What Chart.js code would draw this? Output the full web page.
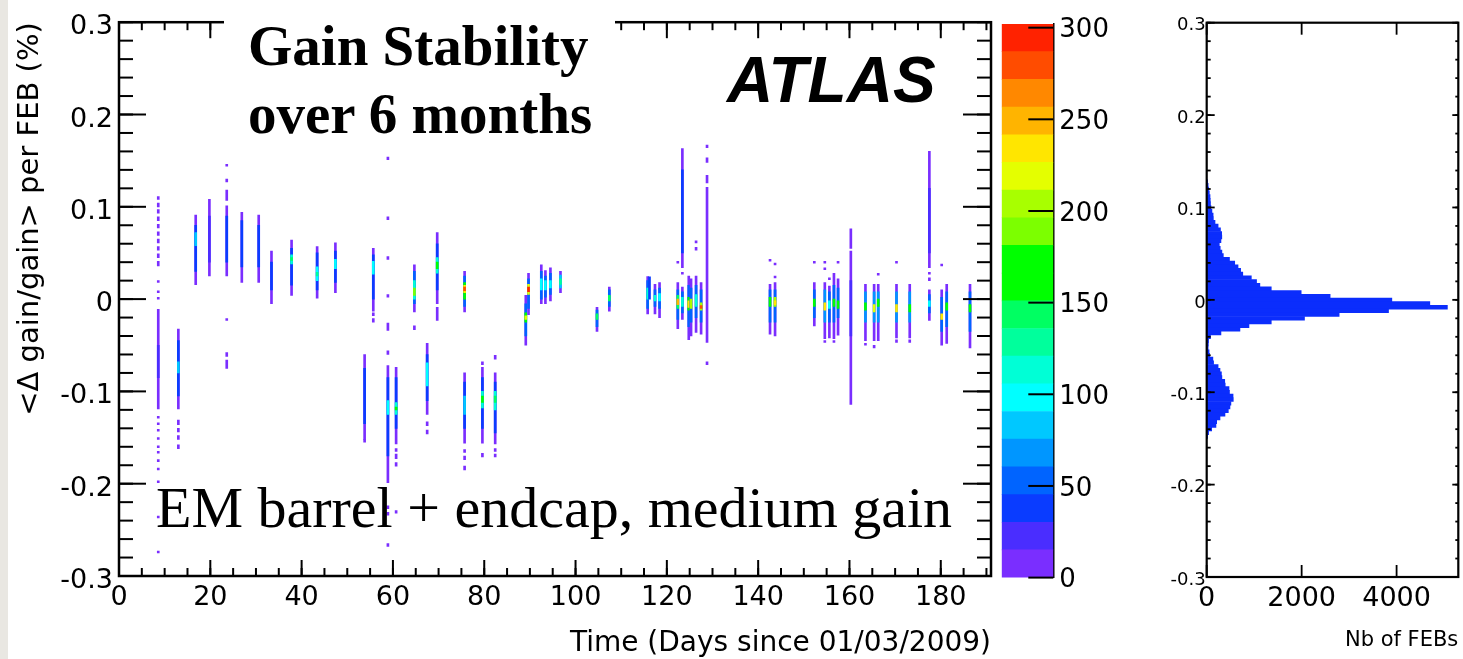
<!DOCTYPE html>
<html>
<head>
<meta charset="utf-8">
<script src="https://cdn.jsdelivr.net/npm/chart.js@4.4.1/dist/chart.umd.min.js"></script>
<style>
  body { margin: 0; width: 1463px; height: 659px; position: relative; overflow: hidden; background: #fff; }
  canvas { position: absolute; top: 0; }
  .strip { position: absolute; left: 0; top: 0; width: 8px; height: 659px; background: #e9e7e2; }
  .txt { position: absolute; white-space: nowrap; color: #000; line-height: 1; }
  .box { position: absolute; left: 224px; top: 0; width: 391px; height: 142px; background: #fff; }
  .serifB { font-family: 'Liberation Serif', serif; font-weight: bold; font-size: 57px; }
  .serif { font-family: 'Liberation Serif', serif; font-size: 58px; }
  .atlas { font-family: 'Liberation Sans', sans-serif; font-weight: bold; font-style: italic; font-size: 64px; }
</style>
</head>
<body>
<div class="strip"></div>
<canvas id="gainMap" width="1000" height="659" style="left:0"></canvas>
<canvas id="zScale" width="150" height="659" style="left:990px"></canvas>
<canvas id="febHist" width="323" height="659" style="left:1140px"></canvas>
<div class="box"></div>
<div class="txt serifB" style="left:248px;top:17px">Gain Stability</div>
<div class="txt serifB" style="left:248px;top:85px">over 6 months</div>
<div class="txt atlas" style="left:727px;top:48px">ATLAS</div>
<div class="txt serif" style="left:156px;top:479px">EM barrel + endcap, medium gain</div>
<script>
// ROOT-like palette, 20 contours from 0 to zMax
const zMax = 302;
const paletteColors = ['#7a2eff', '#4a2dff', '#0a3cff', '#0064ff', '#0096ff', '#00c8ff', '#00ffff', '#00ffd6', '#00ff9c', '#00ff62',
  '#00ff00', '#00ff00', '#7cff00', '#a8ff00', '#e4ff00', '#ffe600', '#ffb400', '#ff8800', '#ff4c00', '#ff2200'];
const zTicks = [0, 50, 100, 150, 200, 250, 300];
const histTicks = [0, 2000, 4000];

// [day, low, high, FEBs per cell]
const cellsEarly = [
  [8.6,0.108,0.111,6],[8.6,0.100,0.104,6],[8.6,0.093,0.097,6],[8.6,0.085,0.089,6],[8.6,0.077,0.081,6],[8.6,0.069,0.073,6],
  [8.6,0.061,0.065,6],[8.6,0.053,0.057,6],[8.6,0.045,0.049,6],[8.6,0.036,0.041,6],[8.6,0.018,0.020,6],[8.6,0.007,0.009,6],[8.6,0.000,0.002,6],
  [8.6,-0.119,-0.011,8],[8.6,-0.085,-0.050,20],
  [8.6,-0.129,-0.127,6],[8.6,-0.136,-0.134,6],[8.6,-0.143,-0.141,6],[8.6,-0.152,-0.150,6],[8.6,-0.161,-0.159,6],[8.6,-0.167,-0.165,6],
  [8.6,-0.176,-0.174,6],[8.6,-0.185,-0.183,6],[8.6,-0.199,-0.197,6],[8.6,-0.237,-0.235,6],[8.6,-0.275,-0.273,6],
  [13.0,-0.119,-0.0325,10],[13.0,-0.105,-0.045,38],[13.0,-0.080,-0.068,90],
  [13.0,-0.136,-0.131,6],[13.0,-0.144,-0.140,6],[13.0,-0.152,-0.148,6],[13.0,-0.162,-0.158,6],
  [16.8,0.0155,0.091,10],[16.8,0.030,0.080,38],[16.8,0.058,0.072,85],
  [19.8,0.025,0.108,10],[19.8,0.040,0.090,25],
  [23.6,0.144,0.146,6],[23.6,0.127,0.130,6],[23.6,0.107,0.118,8],[23.6,0.025,0.101,10],[23.6,0.040,0.090,40],
  [23.6,-0.023,-0.021,6],[23.6,-0.062,-0.058,6],[23.6,-0.075,-0.066,6],
  [26.9,0.018,0.094,10],[26.9,0.035,0.085,40],
  [30.6,0.018,0.091,10],[30.6,0.035,0.080,40],
  [33.4,-0.005,0.052,10],[33.4,0.010,0.040,35],
  [37.8,0.004,0.064,10],[37.8,0.015,0.055,40],[37.8,0.038,0.048,110],[37.8,0.042,0.045,140],
  [43.4,0.001,0.057,10],[43.4,0.010,0.050,40],[43.4,0.020,0.035,100],[43.4,0.025,0.029,130],
  [47.4,0.007,0.061,10],[47.4,0.018,0.052,40],[47.4,0.033,0.043,100],
  [53.8,-0.152,-0.060,10],[53.8,-0.135,-0.075,40],[53.8,-0.155,-0.152,6],
  [55.7,-0.013,0.055,10],[55.7,0.000,0.048,40],[55.7,0.027,0.041,100],[55.7,-0.018,-0.015,6],[55.7,-0.025,-0.021,6],
  [58.9,0.151,0.154,6],[58.9,0.086,0.089,6],[58.9,0.043,0.046,6],[58.9,0.002,0.005,6],[58.9,-0.034,-0.026,6],[58.9,-0.060,-0.056,6],
  [58.9,-0.199,-0.072,10],[58.9,-0.170,-0.085,40],[58.9,-0.125,-0.110,100],
  [58.9,-0.227,-0.224,6],[58.9,-0.234,-0.231,6],[58.9,-0.268,-0.265,6]
];
const cellsMid = [
  [60.7,-0.157,-0.074,10],[60.7,-0.140,-0.085,40],[60.7,-0.125,-0.112,110],[60.7,-0.120,-0.117,160],
  [60.7,-0.165,-0.162,6],[60.7,-0.173,-0.168,6],[60.7,-0.181,-0.177,6],[60.7,-0.232,-0.229,6],
  [64.7,-0.014,0.037,10],[64.7,-0.005,0.030,50],[64.7,0.000,0.020,120],[64.7,0.004,0.012,190],[64.7,-0.033,-0.029,6],
  [67.5,-0.125,-0.048,10],[67.5,-0.110,-0.060,40],[67.5,-0.094,-0.069,100],[67.5,-0.137,-0.133,6],[67.5,-0.146,-0.142,6],
  [69.7,-0.005,0.072,10],[69.7,0.010,0.060,40],[69.7,0.028,0.045,110],[69.7,0.033,0.040,170],[69.7,-0.023,-0.009,10],
  [75.7,-0.014,0.030,10],[75.7,-0.008,0.025,60],[75.7,0.000,0.018,160],[75.7,0.007,0.015,240],[75.7,0.009,0.013,285],
  [75.7,-0.156,-0.080,10],[75.7,-0.140,-0.090,40],[75.7,-0.125,-0.105,90],
  [75.7,-0.166,-0.163,6],[75.7,-0.174,-0.170,6],[75.7,-0.185,-0.181,6],
  [79.6,-0.071,-0.068,6],[79.6,-0.156,-0.074,10],[79.6,-0.140,-0.085,45],[79.6,-0.118,-0.100,120],[79.6,-0.112,-0.105,165],[79.6,-0.171,-0.167,6],
  [82.4,-0.065,-0.061,6],[82.4,-0.157,-0.080,10],[82.4,-0.145,-0.090,45],[82.4,-0.120,-0.100,110],[82.4,-0.112,-0.105,150],
  [82.4,-0.165,-0.162,6],[82.4,-0.171,-0.168,6],
  [89.1,-0.050,0.004,12],[89.1,-0.040,-0.005,60],[89.1,-0.025,-0.015,170],[89.1,-0.022,-0.018,220],
  [89.7,-0.017,0.028,12],[89.7,-0.010,0.022,60],[89.7,0.005,0.016,220],[89.7,0.008,0.013,290],
  [92.5,-0.005,0.037,10],[92.5,0.000,0.030,50],[92.5,0.010,0.022,100],
  [93.4,-0.005,0.031,10],[93.4,0.002,0.025,60],[93.4,0.010,0.020,105],
  [94.5,-0.002,0.034,10],[94.5,0.005,0.028,50],[94.5,0.012,0.020,100],
  [96.7,0.007,0.030,10],[96.7,0.012,0.026,80],[96.7,0.016,0.022,130],
  [104.7,-0.035,-0.009,10],[104.7,-0.030,-0.012,60],[104.7,-0.022,-0.016,150],
  [107.4,-0.013,0.013,10],[107.4,-0.008,0.010,60],[107.4,-0.002,0.004,150],
  [115.8,-0.016,0.0245,10],[115.8,-0.010,0.020,50],[115.8,0.000,0.012,110],[116.2,0.000,0.024,40],
  [117.4,-0.016,0.016,10],[117.4,-0.008,0.010,60],[117.4,-0.002,0.004,110],
  [118.4,-0.020,0.018,10],[118.4,-0.010,0.012,60],[118.4,-0.002,0.006,100],
  [122.4,0.039,0.041,6],[122.4,-0.032,0.018,10],[122.4,-0.022,0.010,60],[122.4,-0.010,0.004,150],[122.4,-0.006,0.000,250],
  [123.4,0.034,0.163,10],[123.4,0.050,0.140,40],[123.4,0.027,0.029,6],[123.4,-0.022,0.013,10],[123.4,-0.015,0.008,60],[123.4,-0.008,0.002,110]
];
const cellsLate = [
  [124.8,-0.044,0.025,12],[124.8,-0.030,0.015,50],[124.8,-0.012,0.002,180],[124.8,-0.009,-0.002,240],
  [125.3,-0.040,0.022,12],[125.3,-0.025,0.012,60],[125.3,-0.010,0.000,200],
  [126.4,0.061,0.063,6],[126.4,0.053,0.056,6],[126.4,-0.036,0.025,10],[126.4,-0.020,0.015,50],[126.4,-0.008,0.005,110],
  [127.5,-0.038,0.018,10],[127.5,-0.025,0.010,60],[127.5,-0.012,-0.004,200],[127.5,-0.010,-0.007,285],
  [128.8,0.164,0.167,6],[128.8,0.148,0.153,6],[128.8,0.126,0.134,6],[128.8,-0.047,0.121,8],[128.8,-0.071,-0.068,6],
  [142.6,0.041,0.043,6],[142.6,-0.038,0.016,10],[142.6,-0.025,0.010,60],[142.6,-0.008,0.002,180],
  [143.7,0.037,0.039,6],[143.7,0.023,0.025,6],[143.7,-0.040,0.018,10],[143.7,-0.025,0.010,60],[143.7,-0.008,0.002,200],[143.7,-0.006,-0.002,235],
  [152.3,0.039,0.041,6],[152.3,-0.029,0.018,10],[152.3,-0.020,0.010,60],[152.3,-0.008,0.000,170],
  [154.6,0.039,0.041,6],[154.6,0.032,0.034,6],[154.6,-0.043,0.018,10],[154.6,-0.025,0.010,70],[154.6,-0.012,-0.004,230],[154.6,-0.047,-0.045,6],
  [155.6,0.021,0.023,6],[155.6,-0.042,0.014,10],[155.6,-0.025,0.008,50],[155.6,-0.010,-0.002,100],
  [156.6,-0.043,0.028,10],[156.6,-0.025,0.015,60],[156.6,-0.008,0.000,170],[156.6,-0.047,-0.045,6],
  [157.5,0.039,0.041,6],[157.5,-0.039,0.022,10],[157.5,-0.020,0.012,60],[157.5,-0.010,-0.002,170],
  [160.3,0.055,0.076,8],[160.3,-0.114,0.052,10],[160.3,-0.040,0.020,30],
  [163.5,-0.045,0.016,10],[163.5,-0.025,0.008,70],[163.5,-0.012,-0.004,170],[163.5,-0.050,-0.048,6],
  [165.4,-0.045,0.016,10],[165.4,-0.025,0.008,70],[165.4,-0.014,-0.006,220],[165.4,-0.053,-0.050,6],
  [166.3,0.026,0.028,6],[166.3,-0.045,0.016,10],[166.3,-0.025,0.008,70],[166.3,-0.008,0.000,170],
  [170.3,0.039,0.041,6],[170.3,-0.042,0.016,10],[170.3,-0.025,0.008,70],[170.3,-0.014,-0.006,230],[170.3,-0.047,-0.044,6],
  [173.2,-0.042,0.016,10],[173.2,-0.025,0.008,70],[173.2,-0.014,-0.006,170],[173.2,-0.047,-0.044,6],
  [177.5,0.034,0.160,10],[177.5,0.050,0.120,30],[177.5,0.027,0.029,6],[177.5,0.020,0.023,6],
  [177.5,-0.023,0.010,10],[177.5,-0.015,0.005,50],[177.5,-0.008,-0.002,100],
  [180.2,0.036,0.038,6],[180.2,-0.050,0.010,10],[180.2,-0.035,0.002,60],[180.2,-0.022,-0.016,230],
  [181.3,-0.048,0.016,10],[181.3,-0.030,0.008,60],[181.3,-0.012,-0.004,165],
  [186.4,-0.053,0.016,10],[186.4,-0.035,0.008,50],[186.4,-0.014,-0.006,170]
];

// projection: <dgain/gain> bin centres and number of FEBs
const histCenters = [0.128,0.124,0.120,0.116,0.112,0.108,0.104,0.100,0.096,0.092,0.088,0.084,0.080,0.076,0.072,0.068,0.064,0.060,
  0.056,0.052,0.048,0.044,0.040,0.036,0.032,0.028,0.024,0.020,0.016,0.012,0.008,0.004,0.000,-0.004,-0.008,-0.012,-0.016,-0.020,
  -0.024,-0.028,-0.032,-0.036,-0.040,-0.044,-0.048,-0.052,-0.056,-0.060,-0.064,-0.068,-0.072,-0.076,-0.080,-0.084,-0.088,-0.092,
  -0.096,-0.100,-0.104,-0.108,-0.112,-0.116,-0.120,-0.124,-0.128,-0.132,-0.136,-0.140,-0.144,-0.148];
const histCounts = [20,30,40,55,70,75,80,90,110,135,140,175,240,290,315,318,300,265,
  285,320,350,480,590,660,715,760,940,1050,1120,1360,1990,2600,3900,4700,5070,3830,2790,2060,
  1360,890,700,300,80,40,35,30,50,60,130,145,240,280,310,320,380,390,
  470,480,555,560,510,490,455,385,280,210,195,105,40,20];

const cells = cellsEarly.concat(cellsMid, cellsLate);
function colorFor(n) {
  const i = Math.min(paletteColors.length - 1, Math.floor(n / (zMax / paletteColors.length)));
  return paletteColors[i];
}
function fmtTenth(v) {
  const r = Math.round(v * 10) / 10;
  return r === 0 ? '0' : String(r);
}

Chart.defaults.font.family = "'DejaVu Sans', sans-serif";
Chart.defaults.color = '#000';

// inward ROOT style ticks and frame
const rootAxes = {
  id: 'rootAxes',
  afterDatasetsDraw(chart, args, opts) {
    const { ctx, chartArea: a, scales } = chart;
    ctx.save();
    ctx.strokeStyle = '#000';
    ctx.lineCap = 'butt';
    if (opts.frame) {
      ctx.lineWidth = opts.frameWidth;
      ctx.strokeRect(a.left, a.top, a.right - a.left, a.bottom - a.top);
    }
    ctx.lineWidth = opts.tickWidth;
    (opts.marks || []).forEach(m => {
      const s = scales[m.axis];
      const start = Math.ceil(s.min / m.step - 1e-6) * m.step;
      for (let v = start; v <= s.max + 1e-9; v += m.step) {
        const p = s.getPixelForValue(v);
        ctx.beginPath();
        if (m.side === 'bottom') { ctx.moveTo(p, a.bottom); ctx.lineTo(p, a.bottom - m.len); }
        if (m.side === 'top') { ctx.moveTo(p, a.top); ctx.lineTo(p, a.top + m.len); }
        if (m.side === 'left') { ctx.moveTo(a.left, p); ctx.lineTo(a.left + m.len, p); }
        if (m.side === 'right') { ctx.moveTo(a.right, p); ctx.lineTo(a.right - m.len, p); }
        ctx.stroke();
      }
    });
    ctx.restore();
  }
};

const noGrid = { display: false, drawTicks: false };

new Chart(document.getElementById('gainMap'), {
  type: 'bar',
  data: {
    datasets: [{
      data: cells.map(c => ({ x: c[0], y: [c[1], c[2]] })),
      backgroundColor: cells.map(c => colorFor(c[3])),
      barThickness: 2,
      borderWidth: 0
    }]
  },
  options: {
    animation: false,
    responsive: false,
    events: [],
    layout: { padding: { top: 22, right: 9, left: 0, bottom: 0 } },
    plugins: {
      legend: { display: false },
      tooltip: { enabled: false },
      rootAxes: {
        frame: true, frameWidth: 2.5, tickWidth: 2,
        marks: [
          { axis: 'x', side: 'bottom', step: 5, len: 8 }, { axis: 'x', side: 'bottom', step: 20, len: 16 },
          { axis: 'x', side: 'top', step: 5, len: 8 }, { axis: 'x', side: 'top', step: 20, len: 16 },
          { axis: 'y', side: 'left', step: 0.02, len: 14 }, { axis: 'y', side: 'left', step: 0.1, len: 27 },
          { axis: 'y', side: 'right', step: 0.02, len: 14 }, { axis: 'y', side: 'right', step: 0.1, len: 28 }
        ]
      }
    },
    scales: {
      x: {
        type: 'linear', min: 0, max: 191, offset: false,
        afterFit: s => { s.height = 83; },
        grid: noGrid, border: { display: false },
        ticks: { stepSize: 20, includeBounds: false, autoSkip: false, maxRotation: 0, padding: 6, font: { size: 27 } },
        title: { display: true, text: 'Time (Days since 01/03/2009)', align: 'end', font: { size: 28 }, padding: { top: 0, bottom: -2 } }
      },
      y: {
        type: 'linear', min: -0.3, max: 0.3,
        afterFit: s => { s.width = 119; },
        grid: noGrid, border: { display: false },
        ticks: { stepSize: 0.1, autoSkip: false, padding: 6, labelOffset: 5, font: { size: 27 }, callback: fmtTenth },
        title: { display: true, text: '<\u0394 gain/gain> per FEB (%)', align: 'end', font: { size: 29 }, padding: { top: 13, bottom: 0 } }
      }
    }
  },
  plugins: [rootAxes]
});

new Chart(document.getElementById('zScale'), {
  type: 'bar',
  data: {
    labels: ['z'],
    datasets: paletteColors.map(c => ({ data: [zMax / paletteColors.length], backgroundColor: c, borderWidth: 0, barPercentage: 1, categoryPercentage: 1 }))
  },
  options: {
    animation: false,
    responsive: false,
    events: [],
    layout: { padding: { top: 24, left: 11.7, right: 0, bottom: 81.4 } },
    plugins: {
      legend: { display: false },
      tooltip: { enabled: false },
      rootAxes: { frame: false, tickWidth: 2, marks: [{ axis: 'y', side: 'right', step: 50, len: 25 }] }
    },
    scales: {
      x: { display: false, stacked: true },
      y: {
        position: 'right', stacked: true, min: 0, max: zMax,
        afterFit: s => { s.width = 86.7; },
        grid: noGrid, border: { display: true, color: '#000', width: 1.5 },
        ticks: { padding: 6, labelOffset: 3, font: { size: 26 } },
        afterBuildTicks: s => { s.ticks = zTicks.map(v => ({ value: v })); }
      }
    }
  },
  plugins: [rootAxes]
});

new Chart(document.getElementById('febHist'), {
  type: 'bar',
  data: {
    datasets: [{
      data: histCenters.map((c, i) => ({ y: c, x: histCounts[i] })),
      backgroundColor: '#0b2dfc',
      borderWidth: 0,
      barPercentage: 1,
      categoryPercentage: 1
    }]
  },
  options: {
    indexAxis: 'y',
    animation: false,
    responsive: false,
    events: [],
    layout: { padding: { top: 22.7, left: 0, right: 4.7, bottom: 0 } },
    plugins: {
      legend: { display: false },
      tooltip: { enabled: false },
      rootAxes: {
        frame: true, frameWidth: 2.2, tickWidth: 1.8,
        marks: [
          { axis: 'y', side: 'left', step: 0.02, len: 4 }, { axis: 'y', side: 'left', step: 0.1, len: 8 },
          { axis: 'y', side: 'right', step: 0.02, len: 3 }, { axis: 'y', side: 'right', step: 0.1, len: 6 },
          { axis: 'x', side: 'bottom', step: 2000, len: 12 }, { axis: 'x', side: 'top', step: 2000, len: 12 }
        ]
      }
    },
    scales: {
      x: {
        type: 'linear', min: 0, max: 5300, offset: false,
        afterFit: s => { s.height = 82; },
        afterBuildTicks: s => { s.ticks = histTicks.map(v => ({ value: v })); },
        grid: noGrid, border: { display: false },
        ticks: { autoSkip: false, maxRotation: 0, padding: 6, font: { size: 27 }, callback: v => String(v) },
        title: { display: true, text: 'Nb of FEBs', align: 'end', font: { size: 21 }, padding: { top: 0, bottom: 6 } }
      },
      y: {
        type: 'linear', min: -0.3, max: 0.3, offset: false,
        afterFit: s => { s.width = 66.7; },
        grid: noGrid, border: { display: false },
        ticks: { stepSize: 0.1, autoSkip: false, padding: 1, labelOffset: 3, font: { size: 18 }, callback: fmtTenth }
      }
    }
  },
  plugins: [rootAxes]
});
</script>
</body>
</html>
